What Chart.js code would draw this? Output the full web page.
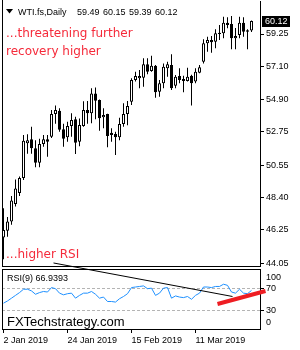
<!DOCTYPE html>
<html>
<head>
<meta charset="utf-8">
<script src="https://cdn.jsdelivr.net/npm/chart.js@4.4.1/dist/chart.umd.min.js"></script>
<style>
  html, body { margin: 0; padding: 0; background: #fff; }
  #wrap { position: relative; width: 300px; height: 350px; overflow: hidden; }
  #priceChart { position: absolute; left: 0; top: 0; }
  #rsiChart { position: absolute; left: 0; top: 250px; }
</style>
</head>
<body>
<div id="wrap">
  <canvas id="priceChart" width="300" height="268"></canvas>
  <canvas id="rsiChart" width="300" height="100"></canvas>
</div>
<script>
// WTI.fs daily, 2 Jan 2019 - 29 Mar 2019 (one entry per bar)
const tickBars = [0, 16, 32, 48];
const tickLabels = ['2 Jan 2019', '24 Jan 2019', '15 Feb 2019', '11 Mar 2019'];
const priceTicks = [44.05, 46.25, 48.40, 50.55, 52.75, 54.90, 57.10, 59.25];
const rsiTicks = [0, 30, 70, 100];

const opens = [45.75, 46.2, 46.8, 47.97, 48.7, 49.7, 52.0, 52.26, 51.67, 50.7,
  51.95, 52.26, 52.44, 53.94, 54.16, 52.93, 52.4, 53.14, 53.59, 52.1,
  53.14, 54.2, 53.99, 55.3, 54.87, 53.72, 53.94, 52.7, 52.61, 52.4,
  53.28, 53.94, 54.76, 56.2, 56.31, 56.35, 57.24, 56.8, 57.15, 55.42,
  55.98, 56.97, 57.19, 55.82, 56.46, 56.26, 56.13, 56.48, 56.09, 56.68,
  57.41, 58.63, 58.85, 58.74, 59.25, 59.3, 60.0, 59.91, 58.96, 59.18,
  60.0, 59.5, 59.49];
const highs = [47.68, 47.1, 48.5, 49.6, 49.8, 52.55, 52.6, 53.1, 52.2, 52.3,
  52.55, 52.55, 54.2, 54.5, 54.32, 53.3, 53.43, 53.99, 53.76, 53.65,
  54.78, 54.8, 55.65, 55.7, 54.9, 54.32, 53.96, 52.99, 52.77, 53.7,
  54.65, 54.8, 56.31, 56.75, 56.86, 57.64, 57.64, 57.81, 57.2, 56.2,
  57.3, 57.41, 57.9, 56.53, 56.97, 56.48, 57.01, 56.55, 56.97, 57.19,
  58.9, 59.07, 59.12, 59.56, 59.85, 60.4, 60.36, 60.45, 59.65, 60.4,
  60.36, 59.56, 60.15];
const lows = [44.3, 45.8, 46.6, 47.8, 48.5, 49.56, 51.3, 51.3, 50.4, 50.4,
  51.77, 51.1, 52.35, 53.3, 52.77, 51.77, 52.1, 52.44, 51.29, 51.8,
  53.1, 53.3, 53.33, 53.6, 52.83, 52.99, 51.73, 52.1, 51.22, 52.2,
  53.1, 53.2, 54.54, 56.09, 55.65, 55.75, 56.58, 56.75, 55.02, 55.09,
  55.65, 56.42, 55.53, 55.65, 55.98, 55.38, 56.09, 54.5, 55.98, 56.64,
  57.3, 58.08, 58.01, 58.3, 58.85, 58.96, 59.63, 58.23, 58.23, 58.96,
  59.07, 58.23, 59.39];
const closes = [46.25, 46.8, 48.2, 49.0, 49.7, 52.17, 52.2, 51.67, 50.7, 51.95,
  52.26, 52.1, 53.94, 54.2, 52.9, 52.3, 53.14, 53.54, 52.04, 53.21,
  54.2, 53.99, 55.3, 54.82, 53.66, 53.88, 52.48, 52.55, 52.4, 53.28,
  53.94, 54.47, 56.2, 56.46, 56.46, 57.24, 56.75, 57.15, 55.38, 55.98,
  57.08, 57.24, 55.65, 56.42, 56.2, 56.13, 56.42, 55.98, 56.75, 57.04,
  58.63, 58.85, 58.7, 59.3, 59.34, 60.0, 59.85, 58.96, 59.12, 60.0,
  59.4, 59.4, 60.12];

// RSI(9)
const rsiValues = [44, 48, 53, 58, 63, 69, 69, 66, 60, 63,
  65, 64, 72, 70, 62, 59, 61, 62, 53, 58,
  62, 62, 65, 60, 53, 55, 47, 47, 46, 52,
  56, 61, 72, 73, 74, 75, 70, 71, 58, 62,
  71, 72, 53, 57, 55, 54, 56, 51, 58, 62,
  73, 73, 72, 74, 74, 78, 76, 64, 62, 69,
  62, 61, 66.9393];

// drawn trendlines (bar index, RSI value)
const trendX = [12.5, 57.25];
const trendY = [116.1, 56.0];
const redX = [53.5, 65.5];
const redY = [42.6, 65.9];

Chart.defaults.font.family = "'Liberation Sans', Arial, sans-serif";
Chart.defaults.font.size = 9;
Chart.defaults.color = '#000';

const bars = opens.map((o, i) => i);
const upDown = bars.map(i => closes[i] >= opens[i]);

function fixPad(s) {
    s.paddingTop = 0;
    s.paddingBottom = 0;
    s.paddingLeft = 0;
    s.paddingRight = 0;
}

// Price window
const priceDecor = {
    id: 'priceDecor',
    afterDraw(chart) {
        const { ctx, chartArea: a } = chart;
        ctx.save();
        ctx.strokeStyle = '#000';
        ctx.lineWidth = 1;
        ctx.beginPath();
        ctx.moveTo(a.left + 0.5, 0);
        ctx.lineTo(a.left + 0.5, a.bottom + 1);
        ctx.moveTo(a.left, a.bottom + 0.5);
        ctx.lineTo(a.right + 1, a.bottom + 0.5);
        ctx.stroke();

        // header
        ctx.fillStyle = '#000';
        ctx.beginPath();
        ctx.moveTo(6, 9);
        ctx.lineTo(13, 9);
        ctx.lineTo(9.5, 13.5);
        ctx.closePath();
        ctx.fill();
        ctx.font = "9px 'Liberation Sans'";
        ctx.textBaseline = 'alphabetic';
        ctx.fillText('WTI.fs,Daily', 18, 15);
        const last = closes.length - 1;
        const head = [opens[last], highs[last], lows[last], closes[last]];
        head.forEach((v, k) => ctx.fillText(v.toFixed(2), 77 + k * 26, 15));

        // notes
        ctx.fillStyle = '#f52a3a';
        ctx.font = "12px 'DejaVu Sans'";
        ctx.fillText('...threatening further', 6, 37);
        ctx.fillText('recovery higher', 6, 55);
        ctx.fillText('...higher RSI', 6, 258);

        // last price box
        const y = Math.round(chart.scales.y.getPixelForValue(closes[last]));
        ctx.fillStyle = '#000';
        ctx.fillRect(262, y - 5, 28, 11);
        ctx.fillStyle = '#fff';
        ctx.font = "9px 'Liberation Sans'";
        ctx.textBaseline = 'middle';
        ctx.fillText(closes[last].toFixed(2), 265, y + 0.5);
        ctx.restore();
    }
};

new Chart(document.getElementById('priceChart'), {
    type: 'bar',
    data: {
        datasets: [{
            data: bars.map(i => ({ x: i, y: [opens[i], closes[i]] })),
            backgroundColor: upDown.map(u => u ? '#fff' : '#000'),
            borderColor: '#000',
            borderWidth: 1,
            borderSkipped: false,
            barThickness: 3,
            minBarLength: 1,
            inflateAmount: 0,
            grouped: false
        }, {
            data: bars.map(i => ({ x: i, y: [lows[i], highs[i]] })),
            backgroundColor: '#000',
            borderWidth: 0,
            barThickness: 1,
            inflateAmount: 0,
            grouped: false
        }]
    },
    options: {
        responsive: false,
        animation: false,
        events: [],
        layout: { padding: { left: 2, top: 1, right: 0, bottom: 2 } },
        scales: {
            x: {
                type: 'linear',
                display: false,
                min: -0.375,
                max: 64.125,
                offset: false,
                grid: { offset: false }
            },
            y: {
                position: 'right',
                min: 43.855,
                max: 61.44,
                beginAtZero: false,
                afterBuildTicks: s => { s.ticks = priceTicks.map(v => ({ value: v })); },
                afterFit: s => { s.width = 40; fixPad(s); },
                ticks: { padding: 2, autoSkip: false, callback: v => v.toFixed(2) },
                grid: { drawOnChartArea: false, drawTicks: true, tickLength: 4, tickColor: '#000' },
                border: { display: true, color: '#000' }
            }
        },
        plugins: { legend: { display: false }, tooltip: { enabled: false } }
    },
    plugins: [priceDecor]
});

// RSI window
const rsiDecor = {
    id: 'rsiDecor',
    afterDraw(chart) {
        const { ctx, chartArea: a } = chart;
        ctx.save();
        ctx.strokeStyle = '#000';
        ctx.lineWidth = 1;
        ctx.beginPath();
        ctx.moveTo(a.left + 0.5, a.top);
        ctx.lineTo(a.left + 0.5, a.bottom + 1);
        ctx.moveTo(a.left, a.top + 0.5);
        ctx.lineTo(a.right + 1, a.top + 0.5);
        ctx.stroke();

        ctx.fillStyle = '#000';
        ctx.textBaseline = 'alphabetic';
        ctx.font = "9px 'Liberation Sans'";
        ctx.fillText('RSI(9) ' + rsiValues[rsiValues.length - 1].toFixed(4), 7, 30.5);
        ctx.font = "13px 'Liberation Sans'";
        ctx.fillText('FXTechstrategy.com', 7, 76);
        ctx.restore();
    }
};

const isLevel = ctx => ctx.tick && (ctx.tick.value === 70 || ctx.tick.value === 30);

new Chart(document.getElementById('rsiChart'), {
    type: 'line',
    data: {
        datasets: [{
            data: redX.map((x, k) => ({ x: x, y: redY[k] })),
            borderColor: '#ee1d23',
            borderWidth: 4,
            pointRadius: 0,
            clip: false
        }, {
            data: trendX.map((x, k) => ({ x: x, y: trendY[k] })),
            borderColor: '#000',
            borderWidth: 1,
            pointRadius: 0,
            clip: false
        }, {
            data: rsiValues.map((v, i) => ({ x: i, y: v })),
            borderColor: '#1e90ff',
            borderWidth: 1,
            pointRadius: 0,
            tension: 0
        }]
    },
    options: {
        responsive: false,
        animation: false,
        events: [],
        layout: { padding: { left: 2, top: 19, right: 0, bottom: 0 } },
        scales: {
            x: {
                type: 'linear',
                min: -0.375,
                max: 64.125,
                offset: false,
                afterBuildTicks: s => { s.ticks = tickBars.map(v => ({ value: v })); },
                afterFit: s => { s.height = 21; fixPad(s); },
                ticks: {
                    align: 'start',
                    padding: 2,
                    maxRotation: 0,
                    autoSkip: false,
                    callback: v => tickLabels[tickBars.indexOf(v)]
                },
                grid: { offset: false, drawOnChartArea: false, drawTicks: true, tickLength: 4, tickColor: '#000' },
                border: { display: true, color: '#000' }
            },
            y: {
                position: 'right',
                min: -2.3,
                max: 105.3,
                afterBuildTicks: s => { s.ticks = rsiTicks.map(v => ({ value: v })); },
                afterFit: s => { s.width = 40; fixPad(s); },
                ticks: {
                    padding: 2,
                    autoSkip: false,
                    callback: v => v === 100 ? ['', '100'] : (v === 0 ? ['0', ''] : String(v))
                },
                grid: {
                    color: ctx => isLevel(ctx) ? '#b4b4b4' : 'rgba(0,0,0,0)',
                    tickColor: ctx => isLevel(ctx) ? '#000' : 'rgba(0,0,0,0)',
                    drawTicks: true,
                    tickLength: 4
                },
                border: { display: true, color: '#000', dash: [3, 2] }
            }
        },
        plugins: { legend: { display: false }, tooltip: { enabled: false } }
    },
    plugins: [rsiDecor]
});
</script>
</body>
</html>
